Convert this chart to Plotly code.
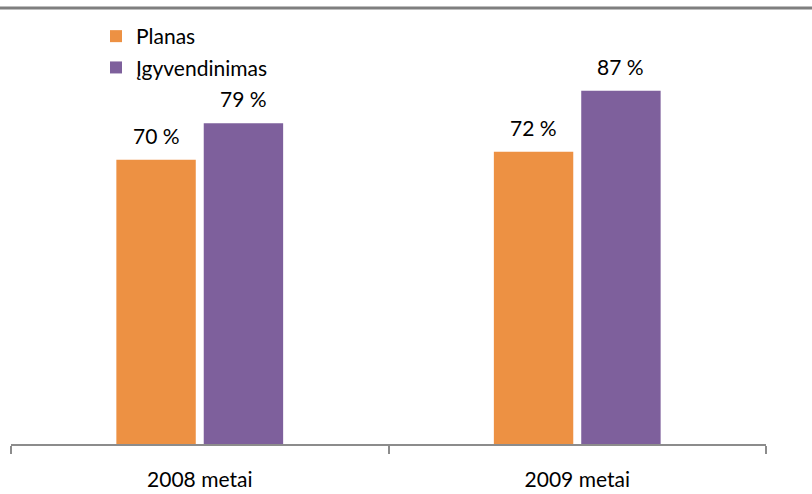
import plotly.graph_objects as go

categories = ["2008 metai", "2009 metai"]
series_names = ["Planas", "Įgyvendinimas"]
planas = [70, 72]
igyvendinimas = [79, 87]
label_suffix = " %"

colors = ["#ED9143", "#7E609C"]
font_family = "Lato, 'Open Sans', sans-serif"

fig = go.Figure()
for i, (name, vals) in enumerate(zip(series_names, [planas, igyvendinimas])):
    fig.add_trace(go.Bar(
        name=name, x=categories, y=vals,
        marker=dict(color=colors[i], line=dict(width=0)),
        legendgroup=name,
        offsetgroup=str(i),
        hoverinfo="skip",
    ))

# data labels above bars
for i, vals in enumerate([planas, igyvendinimas]):
    for j, v in enumerate(vals):
        fig.add_annotation(
            x=j + (-1 if i == 0 else 1) * 87.5 / 2 / 378, y=v,
            xref="x", yref="y",
            text=f"{v}{label_suffix}", showarrow=False,
            yanchor="bottom", yshift=10,
            font=dict(family=font_family, size=21, color="#000000"),
        )

fig.add_shape(type="line", xref="paper", yref="paper",
              x0=-0.05, x1=1.1, y0=(444 - 8) / 406, y1=(444 - 8) / 406,
              line=dict(color="#7f7f7f", width=3))

fig.update_layout(
    width=812, height=494,
    margin=dict(l=11, r=46, t=38, b=50),
    paper_bgcolor="white", plot_bgcolor="white",
    barmode="group", bargap=1 - 175 / 378, bargroupgap=8 / 87.5,
    showlegend=True,
    legend=dict(x=(96 - 11) / 755, y=(444 - 16) / 406, xanchor="left", yanchor="top",
                font=dict(family=font_family, size=21, color="#000000"),
                tracegroupgap=1, bgcolor="rgba(0,0,0,0)",
                itemwidth=30),
    font=dict(family=font_family),
)
fig.update_xaxes(
    type="category", showline=True, linecolor="#8c8c8c", linewidth=2,
    ticks="outside", tickson="boundaries", ticklen=8, tickcolor="#8c8c8c", tickwidth=2,
    tickfont=dict(family=font_family, size=21, color="#000000"),
    ticklabelstandoff=16, automargin=False,
    showgrid=False, range=[-0.5, 1.5],
)
fig.update_yaxes(range=[0, 100], visible=False, showgrid=False, fixedrange=True, automargin=False)

fig.write_html("out.html")
